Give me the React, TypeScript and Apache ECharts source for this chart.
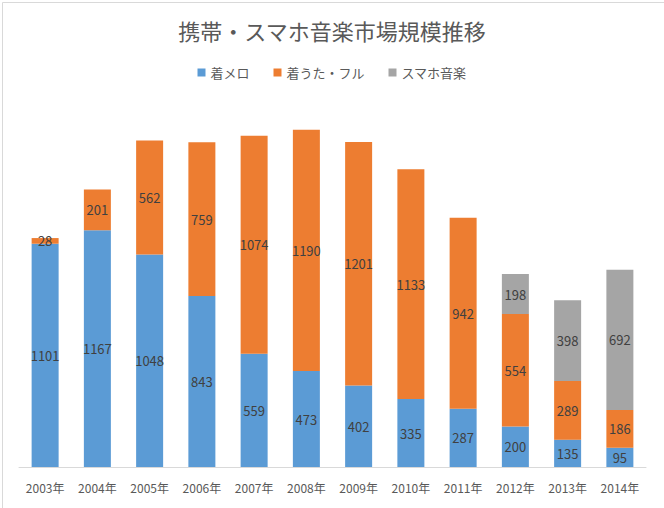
import React, { useEffect, useRef } from "react";
import * as echarts from "echarts";

const categories = ["2003年", "2004年", "2005年", "2006年", "2007年", "2008年", "2009年", "2010年", "2011年", "2012年", "2013年", "2014年"];
const chakumelo = [1101, 1167, 1048, 843, 559, 473, 402, 335, 287, 200, 135, 95];
const chakuuta = [28, 201, 562, 759, 1074, 1190, 1201, 1133, 942, 554, 289, 186];
const smartphone = [null, null, null, null, null, null, null, null, null, 198, 398, 692];

const FONT = "'Noto Sans CJK JP', 'Noto Sans', sans-serif";

export default function App() {
  const ref = useRef<HTMLDivElement>(null);
  useEffect(() => {
    const chart = echarts.init(ref.current!, undefined, { renderer: "svg" });
    const label = { show: true, position: "inside", color: "#404040", fontSize: 13, fontFamily: FONT };
    chart.setOption({
      animation: false,
      backgroundColor: "#ffffff",
      textStyle: { fontFamily: FONT },
      title: {
        text: "携帯・スマホ音楽市場規模推移",
        left: "center",
        top: 14,
        textStyle: { fontSize: 22, color: "#595959", fontWeight: "normal", fontFamily: FONT },
      },
      legend: {
        top: 61,
        left: "center",
        itemWidth: 8,
        itemHeight: 8,
        itemGap: 24,
        icon: "rect",
        textStyle: { fontSize: 13, color: "#595959", fontFamily: FONT },
        data: ["着メロ", "着うた・フル", "スマホ音楽"],
      },
      grid: { left: 19, right: 18, top: 102, bottom: 41, containLabel: false },
      xAxis: {
        type: "category",
        data: categories,
        axisLine: { lineStyle: { color: "#d9d9d9" } },
        axisTick: { show: false },
        axisLabel: { color: "#595959", fontSize: 12, margin: 14, fontFamily: FONT },
      },
      yAxis: {
        type: "value",
        min: 0,
        max: 1800,
        show: false,
        splitLine: { show: false },
      },
      graphic: [
        {
          type: "rect",
          left: 0,
          top: 0,
          shape: { x: 0.5, y: 0.5, width: 663, height: 507 },
          style: { fill: "none", stroke: "#d9d9d9", lineWidth: 1 },
          silent: true,
        },
      ],
      series: [
        { name: "着メロ", type: "bar", stack: "total", data: chakumelo, barWidth: 27, itemStyle: { color: "#5B9BD5" }, label },
        { name: "着うた・フル", type: "bar", stack: "total", data: chakuuta, barWidth: 27, itemStyle: { color: "#ED7D31" }, label },
        { name: "スマホ音楽", type: "bar", stack: "total", data: smartphone, barWidth: 27, itemStyle: { color: "#A5A5A5" }, label },
      ],
    });
    return () => chart.dispose();
  }, []);
  return <div ref={ref} style={{ position: "fixed", left: 0, top: 0, width: 664, height: 508 }} />;
}
